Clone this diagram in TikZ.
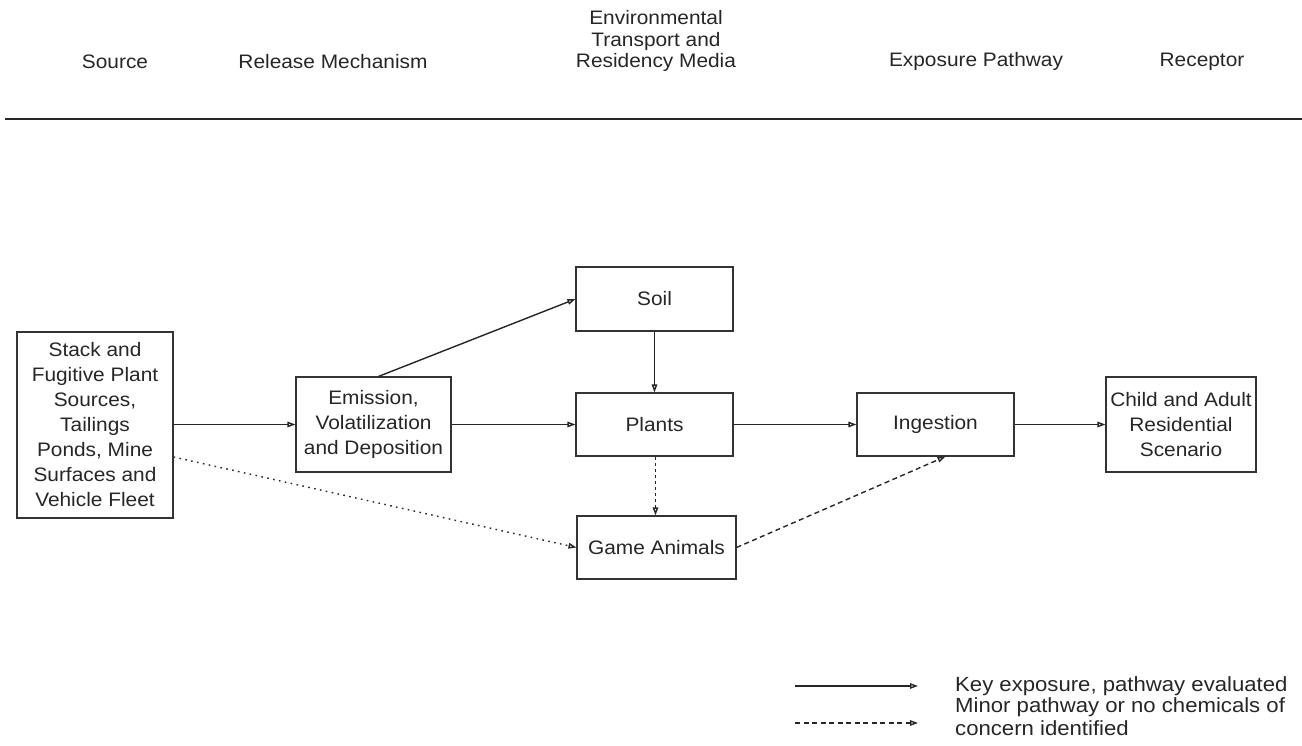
\documentclass[tikz,border=0pt]{standalone}
\usepackage{fontspec}
\setmainfont{Liberation Sans}[FakeStretch=1.07]
\usetikzlibrary{arrows.meta,calc}
\begin{document}
\begin{tikzpicture}[x=1pt,y=-1pt,
  every node/.style={font=\fontsize{19.5}{25}\selectfont, text=black!85, inner sep=0pt, align=center},
  heading/.style={font=\fontsize{19.5}{21.5}\selectfont},
  box/.style={draw=black!80, line width=1.1pt},
  link/.style={draw=black!85, line width=1.4pt, -{Triangle[open,length=8pt,width=5.5pt]}},
  minor/.style={link, dash pattern=on 5pt off 3.5pt},
  minordot/.style={link, dash pattern=on 1.6pt off 4.4pt},
  minorshort/.style={link, dash pattern=on 3pt off 3pt},
  legendtext/.style={anchor=west, align=left, font=\fontsize{20.5}{23}\selectfont\addfontfeature{FakeStretch=1.08}}]
\useasboundingbox (0,0) rectangle (1302,746);

% column headings
\node[heading] (hsrc) at (115,62) {Source};
\node[heading] (hrel) at (333,62) {Release Mechanism};
\node[heading] (henv) at (656,41) {Environmental\\Transport and\\Residency Media};
\node[heading] (hexp) at (976,61) {Exposure Pathway};
\node[heading] (hrec) at (1202,62) {Receptor};
\coordinate (ruleA) at (5,119);
\coordinate (ruleB) at (1302,119);
\draw[line width=1.3pt, black!85] (ruleA) -- (ruleB);

% boxes
\node[box, minimum width=156pt, minimum height=186pt] (src) at (95,425)
  {Stack and\\Fugitive Plant\\Sources,\\Tailings\\Ponds, Mine\\Surfaces and\\Vehicle Fleet};
\node[box, minimum width=155pt, minimum height=95pt] (emis) at (373.5,424.5)
  {Emission,\\Volatilization\\and Deposition};
\node[box, minimum width=157pt, minimum height=64pt] (soil) at (654.5,299) {Soil};
\node[box, minimum width=157pt, minimum height=63pt] (plants) at (654.5,424.5) {Plants};
\node[box, minimum width=159pt, minimum height=63pt] (game) at (656.5,547.5) {Game Animals};
\node[box, minimum width=157pt, minimum height=63pt] (ing) at (935.5,424.5) {Ingestion};
\node[box, minimum width=150pt, minimum height=95pt] (child) at (1181,424.5)
  {Child and Adult\\Residential\\Scenario};

% key pathways
\draw[link] (src.east |- emis.west) -- (emis.west);
\draw[link] (emis.east) -- (plants.west);
\draw[link] ([xshift=5pt]emis.north) -- (soil.west);
\draw[link] (soil.south) -- (plants.north);
\draw[link] (plants.east) -- (ing.west);
\draw[link] (ing.east) -- (child.west);

% minor pathways
\draw[minordot] ([yshift=-32pt]src.east) -- (game.west);
\draw[minorshort] ([xshift=1pt]plants.south) -- ([xshift=1pt]plants.south |- game.north);
\draw[minor] (game.east) -- ([xshift=10pt]ing.south);

% legend
\coordinate (k1a) at (795,686);
\coordinate (k1b) at (918,686);
\coordinate (k2a) at (795,723);
\coordinate (k2b) at (918,723);
\draw[link] (k1a) -- (k1b);
\draw[minor] (k2a) -- (k2b);
\node[legendtext] (t1) at (955,686) {Key exposure, pathway evaluated};
\node[legendtext] (t2) at (955,717) {Minor pathway or no chemicals of\\concern identified};
\end{tikzpicture}
\end{document}
